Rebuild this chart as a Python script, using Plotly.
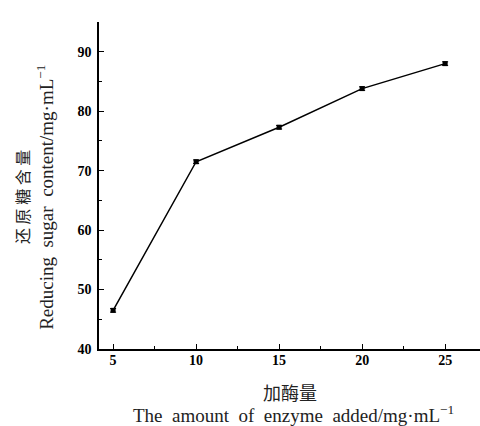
import plotly.graph_objects as go

enzyme = [5, 10, 15, 20, 25]
sugar = [46.5, 71.5, 77.3, 83.8, 88.0]
err = [0.3, 0.3, 0.3, 0.3, 0.3]
x_ticks = [5, 10, 15, 20, 25]
y_ticks = [40, 50, 60, 70, 80, 90]

fig = go.Figure()
fig.add_trace(go.Scatter(
    x=enzyme, y=sugar, mode="lines+markers",
    line=dict(color="black", width=1.5),
    marker=dict(symbol="square", size=5, color="black"),
    error_y=dict(type="data", array=err, visible=True, color="black", thickness=1, width=3),
    showlegend=False,
))

tickfont = dict(family="Liberation Serif", size=14, color="black")
fig.update_layout(
    width=480, height=426,
    margin=dict(l=99, r=0, t=22, b=77),
    paper_bgcolor="white", plot_bgcolor="white",
    xaxis=dict(range=[4.15, 27.1], tickvals=x_ticks, ticktext=["<b>%d</b>" % v for v in x_ticks],
               showline=True, linecolor="black", linewidth=1.5, ticks="inside", ticklen=5,
               tickwidth=1.2, tickcolor="black", showgrid=False, zeroline=False, tickfont=tickfont,
               ticklabelstandoff=-3,
               minor=dict(tickvals=[7.5, 12.5, 17.5, 22.5], ticks="inside", ticklen=3, tickcolor="black", tickwidth=1)),
    yaxis=dict(range=[40, 95], tickvals=y_ticks, ticktext=["<b>%d</b>" % v for v in y_ticks],
               showline=True, linecolor="black", linewidth=1.5, ticks="inside", ticklen=5,
               tickwidth=1.2, tickcolor="black", showgrid=False, zeroline=False, tickfont=tickfont,
               ticklabelstandoff=3,
               minor=dict(tickvals=[45, 55, 65, 75, 85, 95], ticks="inside", ticklen=3, tickcolor="black", tickwidth=1)),
)

titlefont = dict(family="Liberation Serif", size=19, color="#222")
cjkfont_x = dict(family="Noto Sans CJK SC", size=18, color="#222")
cjkfont_y = dict(family="Noto Sans CJK SC", size=16, color="#222")
sp = "\u00a0 "
fig.add_annotation(x=0.5, y=-0.1315, xref="paper", yref="paper", text="加酶量",
                   showarrow=False, font=cjkfont_x, yanchor="middle")
fig.add_annotation(x=0.51, y=-0.199, xref="paper", yref="paper",
                   text=sp.join(["The", "amount", "of", "enzyme", "added/mg·mL<sup>−1</sup>"]),
                   showarrow=False, font=titlefont, yanchor="middle")
fig.add_annotation(x=-0.202, y=0.465, xref="paper", yref="paper",
                   text=" ".join("还原糖含量"), textangle=-90,
                   showarrow=False, font=cjkfont_y, xanchor="center")
fig.add_annotation(x=-0.142, y=0.465, xref="paper", yref="paper",
                   text=sp.join(["Reducing", "sugar", "content/mg·mL<sup>−1</sup>"]), textangle=-90,
                   showarrow=False, font=titlefont, xanchor="center")

fig.write_html("out.html")
